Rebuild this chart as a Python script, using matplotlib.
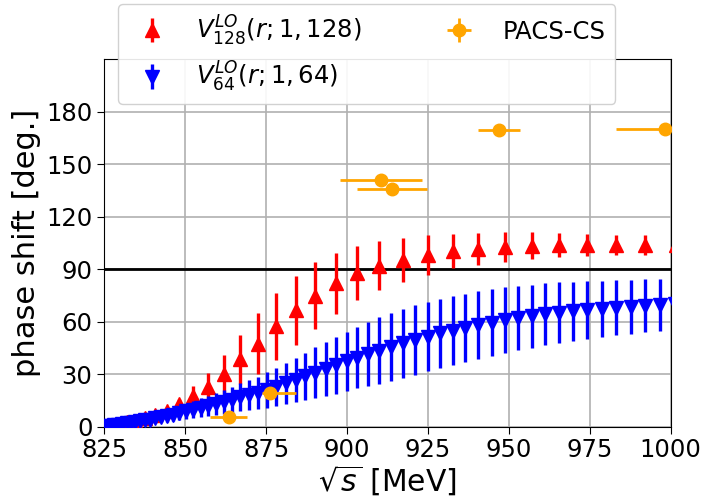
import matplotlib
matplotlib.use("Agg")
import matplotlib.pyplot as plt


# V^LO_128 (red, every other energy level)
red_E = [826.7, 829.3, 831.9, 834.6, 837.5, 840.7, 844.3, 848.1, 852.5, 857.1,
         861.9, 867.0, 872.5, 878.1, 884.1, 890.2, 896.6, 903.2, 910.0, 917.4,
         924.9, 932.7, 940.6, 948.8, 957.1, 965.6, 974.2, 983.2, 992.2, 1001.6]
red_delta = [0.8, 1.5, 2.4, 3.4, 4.7, 6.4, 8.9, 13.0, 17.6, 22.8,
             29.9, 38.4, 47.3, 57.3, 66.5, 74.9, 81.9, 87.8, 91.9, 95.4,
             98.1, 100.4, 101.5, 102.5, 103.3, 103.7, 103.8, 104.0, 103.8, 103.6]
red_err = [0.1, 0.2, 0.3, 0.4, 0.6, 1.0, 1.8, 3.0, 5.4, 7.9,
           11.2, 14.0, 17.5, 19.1, 19.8, 19.0, 17.4, 15.7, 14.1, 12.5,
           11.2, 9.8, 9.0, 8.5, 7.7, 6.9, 6.4, 5.8, 5.6, 5.4]

# V^LO_64 (blue)
blue_E = [825.4, 826.7, 828.0, 829.3, 830.6, 831.9, 833.2, 834.6, 836.0, 837.5,
          839.1, 840.7, 842.5, 844.3, 846.2, 848.1, 850.3, 852.5, 854.8, 857.1,
          859.5, 861.9, 864.4, 867.0, 869.7, 872.5, 875.3, 878.1, 881.1, 884.1,
          887.1, 890.2, 893.4, 896.6, 899.9, 903.2, 906.6, 910.0, 913.7, 917.4,
          921.1, 924.9, 928.8, 932.7, 936.6, 940.6, 944.7, 948.8, 952.9, 957.1,
          961.3, 965.6, 969.9, 974.2, 978.7, 983.2, 987.7, 992.2, 996.7, 1001.2]
blue_delta = [0.3, 0.5, 0.8, 1.1, 1.4, 1.8, 2.2, 2.6, 3.0, 3.5,
              4.0, 4.6, 5.3, 6.0, 6.8, 7.7, 8.7, 9.7, 10.8, 11.9,
              13.0, 14.2, 15.4, 16.6, 17.9, 19.2, 20.8, 22.6, 24.6, 26.6,
              28.6, 30.7, 32.8, 34.9, 37.2, 39.4, 41.4, 43.4, 45.5, 47.6,
              49.5, 51.4, 53.2, 54.9, 56.5, 58.0, 59.4, 60.7, 61.9, 63.0,
              64.1, 65.0, 65.8, 66.6, 67.3, 68.0, 68.5, 69.0, 69.6, 70.1]
blue_err = [0.2, 0.4, 0.6, 0.8, 1.0, 1.2, 1.4, 1.6, 1.8, 2.0,
            2.3, 2.6, 2.9, 3.2, 3.6, 4.0, 4.4, 4.8, 5.3, 5.8,
            6.3, 6.8, 7.4, 8.0, 8.6, 9.3, 10.2, 11.0, 11.7, 12.5,
            13.5, 14.5, 15.4, 16.2, 16.9, 17.6, 18.4, 19.0, 19.3, 19.6,
            19.8, 19.7, 19.6, 19.7, 19.5, 19.3, 19.2, 18.8, 18.4, 18.2,
            17.7, 17.4, 17.0, 16.7, 16.2, 15.9, 15.5, 15.1, 14.7, 14.4]

# PACS-CS lattice points
pacs_E = [863.4, 876.2, 910.4, 913.8, 946.9, 998.4]
pacs_delta = [5.3, 19.4, 140.7, 135.6, 169.3, 170.1]
pacs_xerr_lo = [5.9, 2.5, 12.6, 10.7, 6.5, 15.2]
pacs_xerr_hi = [5.7, 8.0, 12.7, 10.8, 6.5, 15.2]
pacs_yerr = [1.0, 1.5, 2.0, 2.0, 2.0, 2.0]


fig = plt.figure(figsize=(7.03, 5.01), dpi=100)
ax = fig.add_axes([0.1484, 0.1487, 0.8056, 0.7329])

ax.axhline(90, color='black', lw=2, zorder=1)

h_red = ax.errorbar(red_E, red_delta, yerr=red_err, fmt='^', color='red',
                    ms=10.5, elinewidth=2.4, capsize=0,
                    label=r'$V_{128}^{LO}(r;1,128)$', zorder=3)
h_blue = ax.errorbar(blue_E, blue_delta, yerr=blue_err, fmt='v', color='blue',
                     ms=10.5, elinewidth=2.4, capsize=0,
                     label=r'$V_{64}^{LO}(r;1,64)$', zorder=4)
h_pacs = ax.errorbar(pacs_E, pacs_delta, xerr=[pacs_xerr_lo, pacs_xerr_hi],
                     yerr=pacs_yerr, fmt='o', color='orange', ms=9,
                     elinewidth=2, capsize=0, label='PACS-CS', zorder=5)

ax.set_xlim(825, 1000)
ax.set_ylim(0, 210)
ax.set_xticks([825, 850, 875, 900, 925, 950, 975, 1000])
ax.set_yticks([0, 30, 60, 90, 120, 150, 180])
ax.tick_params(labelsize=17.5, length=5)
ax.grid(True, color='#b0b0b0', lw=1.2)
ax.set_axisbelow(True)

ax.set_xlabel(r'$\sqrt{s}$ [MeV]', fontsize=21.5, labelpad=1)
ax.set_ylabel('phase shift [deg.]', fontsize=22, labelpad=4)

fig.legend(handles=[h_red, h_blue, h_pacs], ncol=2, fontsize=17.5,
           loc='upper left', bbox_to_anchor=(0.151, 1.016),
           framealpha=0.9, columnspacing=3.0)

fig.savefig('out.png', dpi=100)
